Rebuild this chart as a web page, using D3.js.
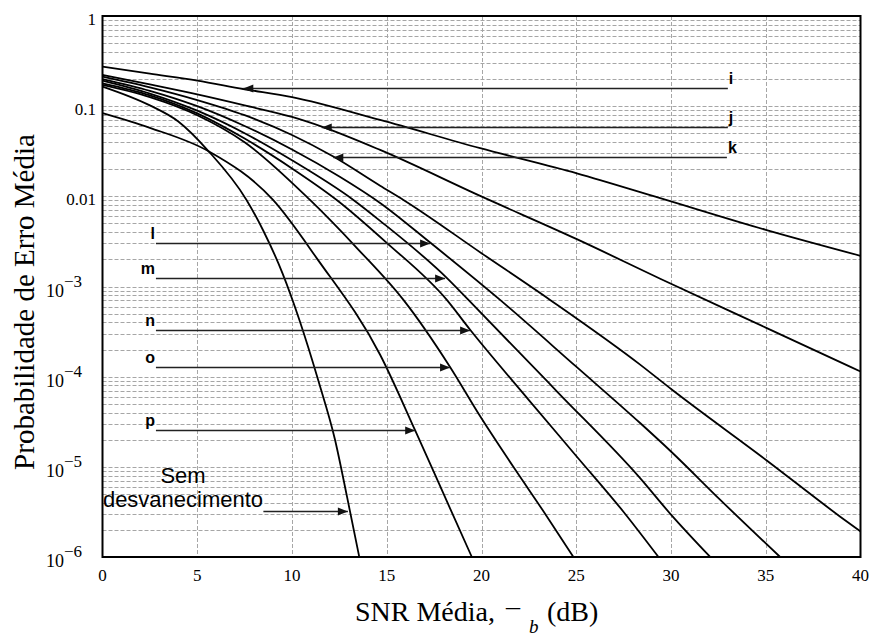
<!DOCTYPE html>
<html>
<head>
<meta charset="utf-8">
<script src="https://cdn.jsdelivr.net/npm/d3@7"></script>
<style>
  body { margin: 0; background: #fff; }
  svg { display: block; }
  .grid line { stroke: #a6a6a6; stroke-width: 1; stroke-dasharray: 4,2; }
  .curve { fill: none; stroke: #000; stroke-width: 1.8; }
  .tag { font-family: "Liberation Sans", Arial, sans-serif; font-weight: bold; font-size: 16px; }
  .note { font-family: "Liberation Sans", Arial, sans-serif; font-size: 22px; }
  .arrow line { stroke: #222; stroke-width: 1.3; }
</style>
</head>
<body>
<svg id="chart" width="877" height="636"></svg>
<script>
// tick values
const xTicks = [0, 5, 10, 15, 20, 25, 30, 35, 40]
const yDecades = [1, 0.1, 0.01, 1e-3, 1e-4, 1e-5, 1e-6]

// curves: [SNR dB, average error probability]
const curveI = [[0, 0.274], [2.5, 0.229], [5, 0.192], [7.43, 0.155], [10, 0.126], [14.65, 0.0703],
    [19.93, 0.0342], [25.03, 0.018], [29.43, 0.00955], [35, 0.00425], [40, 0.00219]]
const curveJ = [[0, 0.222], [2.5, 0.174], [5, 0.135], [7.5, 0.102], [10, 0.0759], [11.57, 0.0593],
    [14.65, 0.0327], [19.93, 0.0101], [25.03, 0.00335], [29.43, 0.00122], [35, 3.5e-4], [40, 1.14e-4]]
const curveK = [[0, 0.213], [2.5, 0.162], [5, 0.117], [7.5, 0.0794], [10, 0.0479], [12.18, 0.0276],
    [14.65, 0.0131], [15.88, 0.00912], [20, 0.00234], [23.62, 7.1e-4], [28.37, 1.36e-4],
    [30.04, 7.2e-5], [35, 1.2e-5], [38.93, 2.8e-6], [40, 1.92e-6]]
const curveL = [[0, 0.2], [2.5, 0.148], [5, 0.1], [7.5, 0.0603], [10, 0.0331], [12.5, 0.0166],
    [14.65, 0.00845], [17.29, 0.00307], [20.98, 7.1e-4], [25, 1.29e-4], [28.37, 3.06e-5],
    [30, 1.48e-5], [32.6, 4.3e-6], [35.76, 1e-6]]
const curveM = [[0, 0.192], [2.5, 0.138], [5, 0.0891], [7.5, 0.0501], [10, 0.0251], [13.24, 0.00912],
    [14.65, 0.00535], [18.18, 0.00124], [19.31, 7.1e-4], [24, 6.8e-5], [28.37, 7.5e-6],
    [30, 2.95e-6], [32.07, 1e-6]]
const curveN = [[0, 0.179], [2.5, 0.132], [5, 0.0832], [7.5, 0.0437], [10, 0.0204], [12.36, 0.00912],
    [15, 0.00305], [18.17, 7.1e-4], [19.4, 3.31e-4], [22.5, 5.5e-5], [25, 1.32e-5],
    [27.5, 3.16e-6], [29.34, 1e-6]]
const curveO = [[0, 0.172], [2.5, 0.126], [5, 0.0794], [7.5, 0.0398], [10.95, 0.00912], [13.5, 0.00257],
    [15.88, 7.1e-4], [18.34, 1.28e-4], [19.93, 3.63e-5], [21.68, 1e-5], [23.45, 2.82e-6], [24.85, 1e-6]]
const curveP = [[0, 0.0836], [2.5, 0.0575], [5.6, 0.0316], [9, 0.00912], [11.35, 0.002],
    [14.65, 1.75e-4], [16.5, 2.53e-5], [18, 5e-6], [19.49, 1e-6]]
const curveNoFading = [[0, 0.165], [2.5, 0.102], [4, 0.0676], [5.6, 0.0316], [7.6, 0.00912], [8.5, 0.0041],
    [9.5, 0.0014], [10.4, 4.2e-4], [11.4, 8.9e-5], [12.27, 2.0e-5], [12.9, 4.7e-6], [13.55, 1e-6]]

const curves = [curveI, curveJ, curveK, curveL, curveM, curveN, curveO, curveP, curveNoFading]

// arrow labels: name, level (probability), arrow start and tip (dB)
const tagNames = ["i", "j", "k", "l", "m", "n", "o", "p"]
const tagLevels = [0.158, 0.0593, 0.0276, 0.00307, 0.00124, 3.31e-4, 1.28e-4, 2.53e-5]
const tagStarts = [33.0, 33.0, 32.95, 2.82, 2.82, 2.82, 2.82, 2.82]
const tagTips = [7.43, 11.57, 12.18, 17.29, 18.08, 19.4, 18.34, 16.5]
const noFadingLines = ["Sem", "desvanecimento"]
const noFadingLevel = 3.26e-6
const noFadingStart = 8.49
const noFadingTip = 12.95

const svg = d3.select("#chart")
const plotLeft = 102.5, plotRight = 860.5, plotTop = 16, plotBottom = 557
const serif = "'Liberation Serif', 'Times New Roman', serif"

const xScale = d3.scaleLinear().domain([0, 40]).range([plotLeft, plotRight])
const yScale = d3.scaleLog().domain([1e-6, 1]).range([plotBottom, plotTop])

// grid
let grid = svg.append("g").attr("class", "grid")
grid.selectAll(".hgrid")
    .data(yScale.ticks().filter(d => d > 1.01e-6 && d < 0.99))
    .join("line")
    .attr("x1", plotLeft).attr("x2", plotRight)
    .attr("y1", d => Math.round(yScale(d)) + 0.5)
    .attr("y2", d => Math.round(yScale(d)) + 0.5)
grid.selectAll(".vgrid")
    .data(xTicks.slice(1, -1))
    .join("line")
    .attr("y1", plotTop).attr("y2", plotBottom)
    .attr("x1", d => Math.round(xScale(d)) + 0.5)
    .attr("x2", d => Math.round(xScale(d)) + 0.5)

// curves
let line = d3.line()
    .x(d => xScale(d[0]))
    .y(d => yScale(d[1]))
    .curve(d3.curveMonotoneX)

svg.append("g").selectAll("path")
    .data(curves)
    .join("path")
    .attr("class", "curve")
    .attr("d", line)

// frame
svg.append("rect")
    .attr("x", plotLeft).attr("y", plotTop)
    .attr("width", plotRight - plotLeft).attr("height", plotBottom - plotTop)
    .attr("fill", "none").attr("stroke", "#000").attr("stroke-width", 2)

// x tick labels
svg.append("g").selectAll("text")
    .data(xTicks)
    .join("text")
    .style("font-family", serif)
    .style("font-size", "17px")
    .attr("x", d => xScale(d))
    .attr("y", plotBottom + 24)
    .attr("text-anchor", "middle")
    .text(d => d)

// y tick labels
let yLab = svg.append("g").selectAll("text")
    .data(yDecades)
    .join("text")
    .style("font-family", serif)
    .style("font-size", "17px")
    .attr("text-anchor", "end")
    .attr("x", d => d >= 0.01 ? 96 : 82)
    .attr("y", d => d >= 0.01 ? yScale(d) + 9 : yScale(d) + 10)
yLab.filter(d => d >= 0.01).text(d => d)
yLab.filter(d => d < 0.01).each(function(d) {
    let t = d3.select(this)
    t.append("tspan").style("font-size", "18px").text("10")
    t.append("tspan").attr("dy", -10).style("font-size", "17px")
        .text("\u2212" + Math.round(-Math.log10(d)))
})

// axis titles
let xt = svg.append("text")
    .attr("y", 621)
    .style("font-family", serif)
    .style("font-size", "28px")
xt.append("tspan").attr("x", 355).text("SNR Média,")
xt.append("tspan").attr("x", 506).attr("dy", 8).text("\u00af")
xt.append("tspan").attr("x", 529).attr("dy", 4).style("font-size", "19px").style("font-style", "italic").text("b")
xt.append("tspan").attr("x", 547).attr("dy", -12).text("(dB)")

svg.append("text")
    .attr("transform", "translate(34, 302) rotate(-90)")
    .attr("text-anchor", "middle")
    .style("font-family", serif)
    .style("font-size", "29px")
    .text("Probabilidade de Erro Média")

// arrows
function arrow(g, x0, x1, yy) {
    g.append("line").attr("x1", x0).attr("x2", x1).attr("y1", yy).attr("y2", yy)
    let dir = x1 > x0 ? 1 : -1
    g.append("path")
        .attr("d", `M${x1},${yy}L${x1 - dir * 10},${yy - 4}L${x1 - dir * 10},${yy + 4}Z`)
        .attr("fill", "#111")
}

let arrows = svg.append("g").attr("class", "arrow")
tagNames.forEach(function(name, i) {
    let yy = Math.round(yScale(tagLevels[i])) + 0.5
    let x0 = xScale(tagStarts[i]), x1 = xScale(tagTips[i])
    arrow(arrows, x0, x1, yy)
    let rightSide = x0 > x1
    svg.append("text")
        .attr("class", "tag")
        .attr("x", rightSide ? x0 + 1 : x0 - 1)
        .attr("y", yy - 5)
        .attr("text-anchor", rightSide ? "start" : "end")
        .text(name)
})

let ny = Math.round(yScale(noFadingLevel)) + 0.5
arrow(arrows, xScale(noFadingStart), xScale(noFadingTip), ny)
svg.append("g").selectAll("text")
    .data(noFadingLines)
    .join("text")
    .attr("class", "note")
    .attr("x", 183)
    .attr("y", (d, i) => ny - 29 + i * 24)
    .attr("text-anchor", "middle")
    .text(d => d)
</script>
</body>
</html>
